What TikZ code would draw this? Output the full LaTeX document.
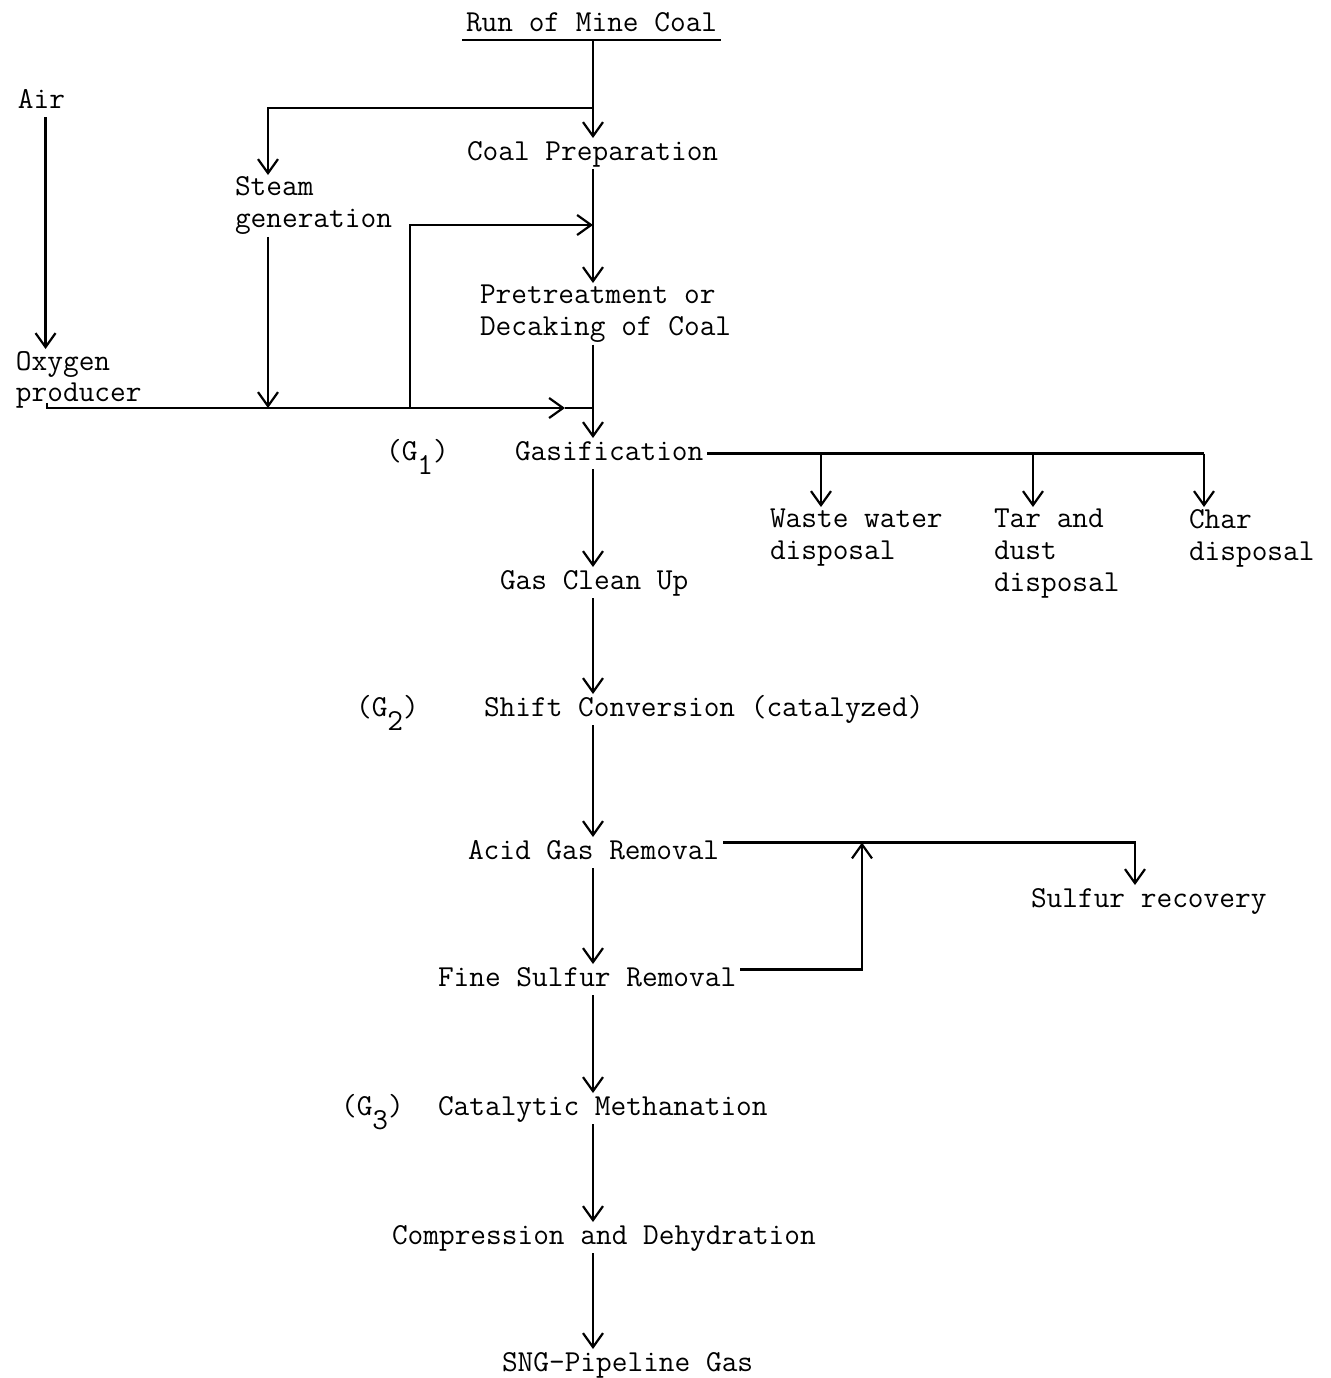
\documentclass[tikz,border=0pt]{standalone}
\usepackage{tikz}
\usetikzlibrary{positioning}
\usetikzlibrary{arrows.meta}
\tikzset{
    stage/.style={
           font=\ttfamily\fontsize{15.24}{16}\selectfont,
           inner sep=0pt,
           outer sep=2pt,
           text height=9pt,
           text depth=2.5pt,
           anchor=base west,
           },
    side/.style={
           font=\ttfamily\fontsize{15.24}{16}\selectfont,
           inner sep=0pt,
           outer sep=1pt,
           align=left,
           anchor=north west,
           },
    tag/.style={
           font=\ttfamily\fontsize{15.24}{16}\selectfont,
           inner sep=0pt,
           anchor=base west,
           },
}
\begin{document}
\begin{tikzpicture}[x=0.5pt, y=-0.5pt, >={Straight Barb[length=7pt,width=10pt]}, line width=1.1pt]
   \useasboundingbox (0,0) rectangle (1330,1378);
   \node[stage] (0) at (462,31) {Run of Mine Coal};
   \node[stage] (1) at (14,108) {Air};
   \node[stage] (2) at (463,160) {Coal Preparation};
   \node[side] (3) at (233,175) {Steam\\generation};
   \node[side] (4) at (478,283) {Pretreatment or\\Decaking of Coal};
   \node[side] (5) at (14,349) {Oxygen\\producer};
   \node[stage] (6) at (511,460) {Gasification};
   \node[tag] (7) at (385,460) {(G\raisebox{-7pt}{1})};
   \node[side] (8) at (768,507) {Waste water\\disposal};
   \node[side] (9) at (992,507) {Tar and\\dust\\disposal};
   \node[side] (10) at (1187,507) {Char\\disposal};
   \node[stage] (11) at (496,589) {Gas Clean Up};
   \node[stage] (12) at (480,716) {Shift Conversion (catalyzed)};
   \node[tag] (13) at (355,716) {(G\raisebox{-7pt}{2})};
   \node[stage] (14) at (464,859) {Acid Gas Removal};
   \node[stage] (15) at (1027,907) {Sulfur recovery};
   \node[stage] (16) at (434,986) {Fine Sulfur Removal};
   \node[stage] (17) at (434,1115) {Catalytic Methanation};
   \node[tag] (18) at (340,1115) {(G\raisebox{-7pt}{3})};
   \node[stage] (19) at (388,1244) {Compression and Dehydration};
   \node[stage] (20) at (498,1371) {SNG-Pipeline Gas};

   \coordinate (col) at (593,0);
   \coordinate (split) at (593,108);
   \coordinate (stm) at (268,108);
   \coordinate (feed) at (593,225);
   \coordinate (byp) at (410,408);
   \coordinate (ox) at (47,408);
   \coordinate (mix) at (593,408);
   \coordinate (wx) at (821,0);
   \coordinate (tx) at (1033,0);
   \coordinate (cx) at (1204,0);
   \coordinate (sx) at (1135,0);
   \coordinate (ret) at (862,0);
   \coordinate (acidout) at ([yshift=5pt]14.east);
   \coordinate (fineout) at ([yshift=5pt]16.east);
   \coordinate (oxout) at ([yshift=4pt]5.south -| ox);

   \draw (0.south west) -- (0.south east);
   \draw[->] (0.south -| col) -- (2.north -| col);
   \draw[->] (split) -- (stm) -- (3.north -| stm);
   \draw[->] ([xshift=2pt]1.south) -- ([xshift=2pt]1.south |- 5.north);
   \draw[->] (2.south -| col) -- (4.north -| col);
   \draw[->] (3.south -| stm) -- (stm |- mix);
   \draw[->] (byp) -- (byp |- feed) -- (feed);
   \draw[->] (oxout) -- (ox) -- ([xshift=-14pt]mix);
   \draw ([xshift=-14pt]mix) -- (mix);

   \draw (6.east) -- (6.east -| cx);
   \path[->]
    (6.east -| wx) edge (8.north -| wx)
    (6.east -| tx) edge (9.north -| tx)
    (6.east -| cx) edge (10.north -| cx)
       ;
   \path[->]
    (4.south -| col) edge (6.north -| col)
    (6.south -| col) edge (11.north -| col)
    (11.south -| col) edge (12.north -| col)
    (12.south -| col) edge (14.north -| col)
    (14.south -| col) edge (16.north -| col)
    (16.south -| col) edge (17.north -| col)
    (17.south -| col) edge (19.north -| col)
    (19.south -| col) edge (20.north -| col)
       ;
   \draw[->] (acidout) -- (acidout -| sx) -- (15.north -| sx);
   \draw[->] (fineout) -- (fineout -| ret) -- (acidout -| ret);
\end{tikzpicture}
\end{document}
